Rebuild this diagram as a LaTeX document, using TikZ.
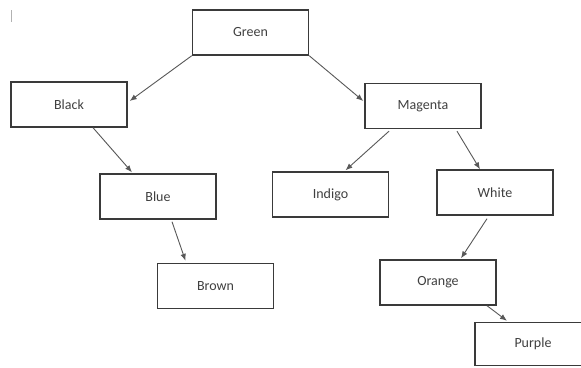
\documentclass[tikz,border=0pt]{standalone}
\usepackage{fontspec}
\setmainfont{Carlito}
\usetikzlibrary{arrows.meta}
\definecolor{boxline}{HTML}{3A3A3A}
\definecolor{txt}{HTML}{404040}
\begin{document}
\begin{tikzpicture}[x=1pt,y=-1pt,
  box/.style={draw=boxline,line width=1.4pt,minimum width=116pt,minimum height=45pt,inner sep=0pt,
    text=txt,font=\fontsize{14}{16}\selectfont},
  conn/.style={draw=boxline!85,line width=0.9pt,-{Latex[length=7pt,width=5.5pt]}}]
\useasboundingbox (0,0) rectangle (581,367);
\clip (0,0) rectangle (581,367);
\fill[white] (0,0) rectangle (581,367);
\draw[gray!60,line width=1.2pt] (11.5,10) -- (11.5,22);
\node[box] (green) at (250.5,32.5) {Green};
\node[box] (black) at (69,104.5) {Black};
\node[box] (blue) at (158,196.5) {Blue};
\node[box] (brown) at (215.5,286) {Brown};
\node[box] (magenta) at (423,106) {Magenta};
\node[box] (indigo) at (330.5,194.5) {Indigo};
\node[box] (white) at (495,192.5) {White};
\node[box] (orange) at (438,282.5) {Orange};
\node[box,minimum height=43pt] (purple) at (533,344) {Purple};
\draw[conn] (green.south west) -- ([xshift=2pt,yshift=3.5pt]black.east);
\draw[conn] ([xshift=24pt]black.south) -- ([xshift=-26pt,yshift=1pt]blue.north);
\draw[conn] ([xshift=14pt,yshift=-2pt]blue.south) -- ([xshift=-30pt,yshift=2pt]brown.north);
\draw[conn] (green.south east) -- ([xshift=-1pt,yshift=5pt]magenta.west);
\draw[conn] ([xshift=-34pt,yshift=-2pt]magenta.south) -- ([xshift=15pt,yshift=1pt]indigo.north);
\draw[conn] ([xshift=34pt,yshift=-2pt]magenta.south) -- ([xshift=-15pt]white.north);
\draw[conn] ([xshift=-8pt,yshift=-3pt]white.south) -- ([xshift=23pt,yshift=1pt]orange.north);
\draw[conn] ([xshift=49pt]orange.south) -- ([xshift=-26pt,yshift=1pt]purple.north);
\end{tikzpicture}
\end{document}
